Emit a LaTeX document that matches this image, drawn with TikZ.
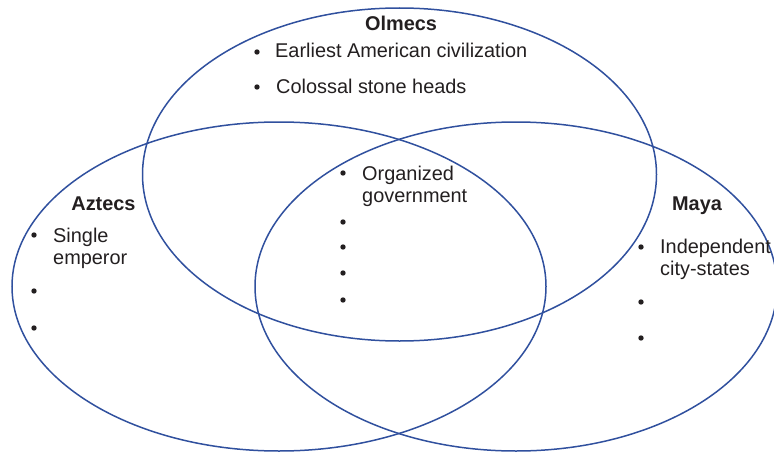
\documentclass[tikz,border=0pt]{standalone}
\usepackage{fontspec}
\setmainfont{Liberation Sans}
\definecolor{venn}{HTML}{30509E}
\definecolor{ink}{HTML}{231F20}
\begin{document}
\begin{tikzpicture}[x=1pt, y=-1pt,
    every node/.style={text=ink, font=\fontsize{19.9}{22}\selectfont},
    head/.style={anchor=base, inner sep=0pt, font=\fontsize{19.9}{22}\selectfont\bfseries},
    item/.style={anchor=base west, align=left, inner sep=0pt},
    dot/.style={circle, fill=ink, inner sep=0pt, minimum size=5.4pt}]
            \useasboundingbox (0,0) rectangle (774,452);

            % the three circles
            \draw[venn, line width=1.5pt] (399.5,174.5) ellipse [x radius=257, y radius=166.5];
            \draw[venn, line width=1.5pt] (279,286.5) ellipse [x radius=267, y radius=164.5];
            \draw[venn, line width=1.5pt] (516,286.5) ellipse [x radius=261, y radius=164.5];

            % Olmecs
            \node[head] (olmecs) at (401,30.5) {Olmecs};
            \node[dot] (o1) at (257,52) {};
            \node[item] (earliest) at (275,58) {Earliest American civilization};
            \node[dot] (o2) at (257,87) {};
            \node[item] (colossal) at (276,93) {Colossal stone heads};

            % all three (base is the second line)
            \node[dot] (c1) at (343,173) {};
            \node[item] (organized) at (362,202) {Organized\\government};
            \node[dot] (c2) at (343,222) {};
            \node[dot] (c3) at (343,247) {};
            \node[dot] (c4) at (343,273) {};
            \node[dot] (c5) at (343,300) {};

            % Aztecs
            \node[head] (aztecs) at (103.5,210.5) {Aztecs};
            \node[dot] (a1) at (34,235) {};
            \node[item] (single) at (53,264) {Single\\emperor};
            \node[dot] (a2) at (34,291) {};
            \node[dot] (a3) at (34,328) {};

            % Maya
            \node[head] (maya) at (697,210.5) {Maya};
            \node[dot] (m1) at (641,247) {};
            \node[item] (independent) at (660,275) {Independent\\city-states};
            \node[dot] (m2) at (641,302) {};
            \node[dot] (m3) at (641,338) {};
        \end{tikzpicture}
\end{document}
